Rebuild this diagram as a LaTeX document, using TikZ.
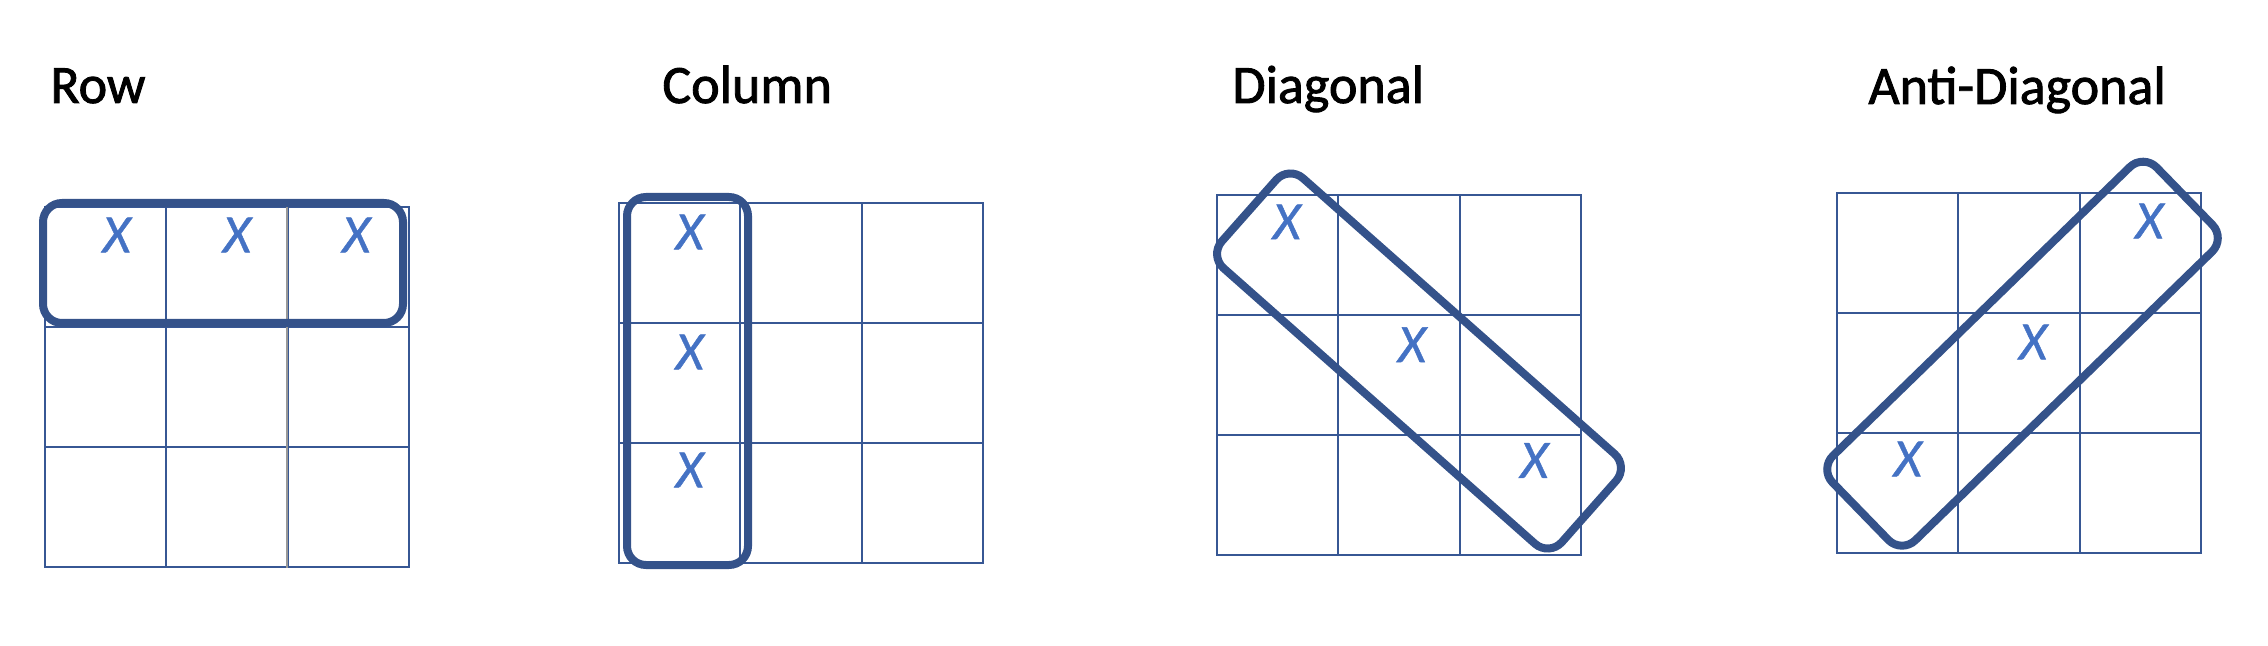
\documentclass[tikz,border=0pt]{standalone}
\usepackage{fontspec}
\setmainfont{Carlito}
\newfontfamily\titlefont{Carlito}[FakeBold=1.6]
\newfontfamily\markfont{Carlito}[ItalicFeatures={FakeBold=0.9}]
\usepackage{tikz}
\usetikzlibrary{positioning}
\definecolor{gridblue}{RGB}{55,87,148}
\definecolor{loopblue}{RGB}{52,82,138}
\definecolor{markblue}{RGB}{68,114,196}
\tikzstyle{cell} = [rectangle, draw=gridblue, line width=1pt, minimum width=60.67pt, minimum height=60pt, inner sep=0pt]
\tikzstyle{title} = [anchor=base west, inner sep=0pt, font=\titlefont\fontsize{27}{32}\selectfont]
\tikzstyle{xmark} = [inner sep=0pt, text=markblue, font=\markfont\fontsize{27}{32}\selectfont\itshape]
\tikzstyle{loopbox} = [rectangle, draw=loopblue, line width=4pt, rounded corners=9.5pt, inner sep=0pt]

\begin{document}
\begin{tikzpicture}[x=0.5pt, y=-0.5pt]
\useasboundingbox (0,0) rectangle (2268,646);

% Titles
\node (rowtitle) [title] at (50,103) {Row};
\node (coltitle) [title] at (662,103) {Column};
\node (diagtitle) [title] at (1232,103) {Diagonal};
\node (antititle) [title] at (1868,104) {Anti-Diagonal};

% Grids
\foreach \r in {1,2,3} {
  \foreach \c in {1,2,3} {
    \node (row-\r-\c) [cell] at ({45+121.33*\c-60.67},{207+120*\r-60}) {};
    \node (col-\r-\c) [cell] at ({619+121.33*\c-60.67},{203+120*\r-60}) {};
    \node (diag-\r-\c) [cell] at ({1217+121.33*\c-60.67},{195+119.8*\r-59.9}) {};
    \node (anti-\r-\c) [cell] at ({1837+121.33*\c-60.67},{193+120*\r-60}) {};
  }
}
\draw [gray!80, line width=1pt] (row-1-3.north west) -- (row-3-3.south west);

% Loops
\node (rowbox) [loopbox, minimum width=180pt, minimum height=60pt] at (223,263) {};
\node (colbox) [loopbox, minimum width=60.5pt, minimum height=184pt] at (687.5,381) {};
\node (diagbox) [loopbox, minimum width=227pt, minimum height=60pt, rotate=-41.5] at (1419,361) {};
\node (antibox) [loopbox, minimum width=226pt, minimum height=59pt, rotate=44.2] at (2022.5,353.7) {};

% Marks
\node (rowx1) [xmark] at ([xshift=5.5pt, yshift=-14.5pt]row-1-1.north) {X};
\node (rowx2) [xmark] at ([xshift=5pt, yshift=-14.5pt]row-1-2.north) {X};
\node (rowx3) [xmark] at ([xshift=4pt, yshift=-14.5pt]row-1-3.north) {X};

\node (colx1) [xmark] at ([xshift=5pt, yshift=-15pt]col-1-1.north) {X};
\node (colx2) [xmark] at ([xshift=5pt, yshift=-15pt]col-2-1.north) {X};
\node (colx3) [xmark] at ([xshift=5pt, yshift=-14pt]col-3-1.north) {X};

\node (diagx1) [xmark] at ([xshift=4.5pt, yshift=-14pt]diag-1-1.north) {X};
\node (diagx2) [xmark] at ([xshift=6.5pt, yshift=-15.5pt]diag-2-2.north) {X};
\node (diagx3) [xmark] at ([xshift=7pt, yshift=-13.5pt]diag-3-3.north) {X};

\node (antix1) [xmark] at ([xshift=4.5pt, yshift=-14.5pt]anti-1-3.north) {X};
\node (antix2) [xmark] at ([xshift=7pt, yshift=-15pt]anti-2-2.north) {X};
\node (antix3) [xmark] at ([xshift=5pt, yshift=-13.5pt]anti-3-1.north) {X};

\end{tikzpicture}
\end{document}
